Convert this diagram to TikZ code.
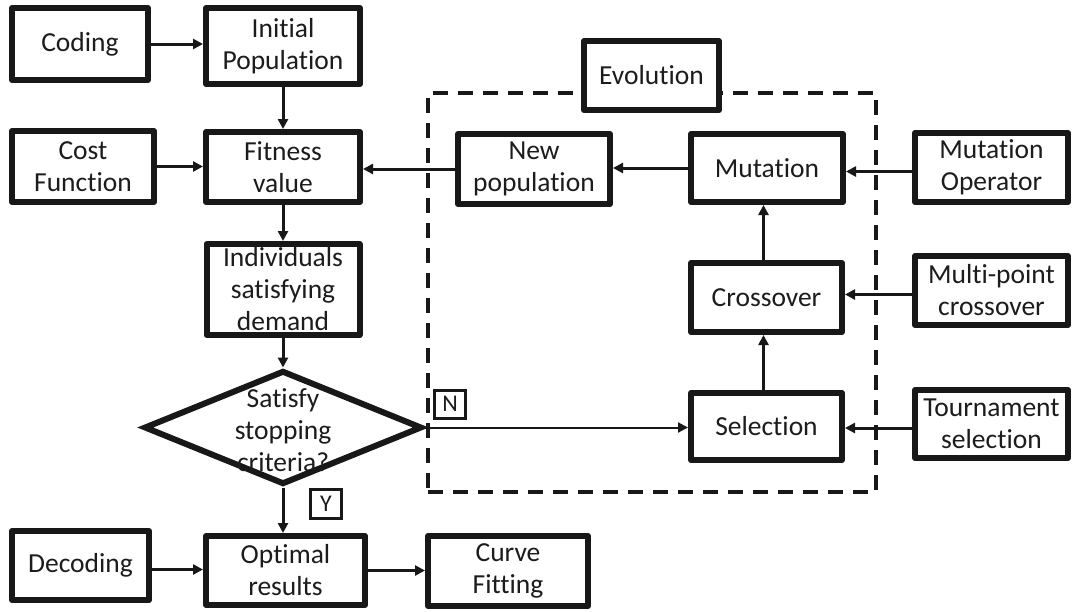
\documentclass[tikz,border=0pt]{standalone}
\usepackage{fontspec}
\setmainfont[Ligatures=NoCommon]{Carlito}
\usetikzlibrary{arrows.meta,shapes.geometric}
\definecolor{ln}{HTML}{181818}
\definecolor{tx}{HTML}{1C1C1C}
\begin{document}
\begin{tikzpicture}[x=1pt,y=-1pt,
  box/.style={draw=ln,fill=white,line width=6pt,line join=round,rectangle,align=center,inner sep=0pt,text=tx,font=\fontsize{27.5}{32}\selectfont},
  arr/.style={draw=ln,line width=3pt,-{Triangle[length=10pt,width=10pt]}},
  thinarr/.style={draw=ln,line width=2pt,-{Triangle[length=10pt,width=10pt]}},
  lab/.style={draw=ln,fill=white,line width=3pt,inner sep=0pt,text=tx,font=\fontsize{24}{26}\selectfont},
  frame/.style={draw=ln,line width=4pt,dash pattern=on 15pt off 10pt,inner sep=0pt},
]
\useasboundingbox (0,0) rectangle (1074,611);

\node[frame,minimum width=448pt,minimum height=399pt] (evframe) at (651.5,292) {};

\node[box,minimum width=136pt,minimum height=72pt] (coding) at (80,44) {Coding};
\node[box,minimum width=154pt,minimum height=76pt] (init) at (283,46) {Initial\\Population};
\node[box,minimum width=142pt,minimum height=71pt] (cost) at (83,166.5) {Cost\\Function};
\node[box,minimum width=154pt,minimum height=70pt] (fit) at (283,167) {Fitness\\value};
\node[box,minimum width=153pt,minimum height=91pt] (indiv) at (283,289.5) {Individuals\\satisfying\\demand};
\node[draw=ln,fill=white,line width=6pt,line join=miter,shape=diamond,inner sep=0pt,minimum width=278pt,minimum height=114pt] (dia) at (283,427.5) {};
\node[align=center,text=tx,font=\fontsize{27.5}{32}\selectfont,inner sep=0pt] (diatext) at (283,430) {Satisfy\\stopping\\criteria?};
\node[box,minimum width=159pt,minimum height=69pt] (opt) at (285.5,570.5) {Optimal\\results};
\node[box,minimum width=137pt,minimum height=69pt] (dec) at (80.5,565.5) {Decoding};
\node[box,minimum width=160pt,minimum height=70pt] (curve) at (508,571) {Curve\\Fitting};
\node[box,minimum width=135pt,minimum height=69pt] (evol) at (651.5,75.5) {Evolution};
\node[box,minimum width=152pt,minimum height=70pt] (newpop) at (534,169) {New\\population};
\node[box,minimum width=152pt,minimum height=68pt] (mut) at (767,168) {Mutation};
\node[box,minimum width=151pt,minimum height=69pt] (cross) at (766.5,297.5) {Crossover};
\node[box,minimum width=151pt,minimum height=67pt] (sel) at (766.5,426.5) {Selection};
\node[box,minimum width=153pt,minimum height=69pt] (mutop) at (991.5,167.5) {Mutation\\Operator};
\node[box,minimum width=153pt,minimum height=69pt] (multi) at (991.5,290.5) {Multi-point\\crossover};
\node[box,minimum width=153pt,minimum height=68pt] (tour) at (991.5,424) {Tournament\\selection};

\node[lab,minimum width=31pt,minimum height=28pt] (nlab) at (450,404) {N};
\node[lab,minimum width=31pt,minimum height=29pt] (ylab) at (326,504) {Y};

\draw[arr] (coding.east) -- (coding.east -| init.west);
\draw[arr] (init) -- (fit);
\draw[arr] (cost.east) -- (cost.east -| fit.west);
\draw[arr] (newpop.west) -- (newpop.west -| fit.east);
\draw[arr] (mut.west) -- (mut.west -| newpop.east);
\draw[arr] ([yshift=-4pt]mutop.west) -- ([yshift=-4pt]mutop.west -| mut.east);
\draw[arr] ([xshift=-3pt]cross.north) -- ([xshift=-3pt]cross.north |- mut.south);
\draw[arr] ([xshift=-3pt]sel.north) -- ([xshift=-3pt]sel.north |- cross.south);
\draw[arr] ([yshift=-4pt]multi.west) -- ([yshift=-4pt]multi.west -| cross.east);
\draw[arr] ([yshift=-4pt]tour.west) -- ([yshift=-4pt]tour.west -| sel.east);
\draw[arr] (fit) -- (indiv);
\draw[arr] (indiv.south) -- (dia.north);
\draw[arr] (dia.south) -- (dia.south |- opt.north);
\draw[arr] ([yshift=-4pt]dec.east) -- ([yshift=-4pt]dec.east -| opt.west);
\draw[arr] (opt.east) -- (opt.east -| curve.west);
\draw[thinarr] (dia.east) -- (dia.east -| sel.west);
\end{tikzpicture}
\end{document}
